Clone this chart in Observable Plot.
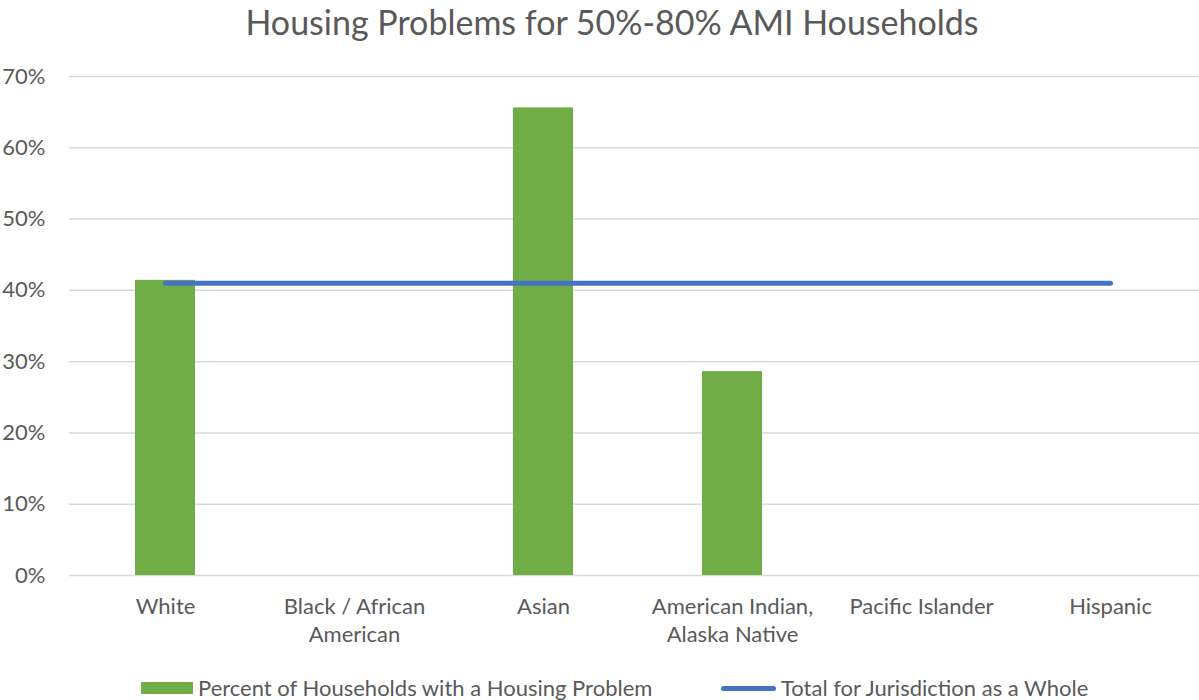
<!DOCTYPE html>
<html><head><meta charset="utf-8">
<script src="https://cdn.jsdelivr.net/npm/d3@7"></script>
<script src="https://cdn.jsdelivr.net/npm/@observablehq/plot@0.6"></script>
<style>
body{margin:0;background:#fff;font-family:Lato,sans-serif;color:#595959}
#wrap{width:1199px;height:700px;position:relative;overflow:hidden;background:#fff}
#title{position:absolute;left:0;top:3px;width:1224px;text-align:center;font-size:34px;line-height:37px;white-space:nowrap}
#chart{position:absolute;left:0;top:48px}
.leg{position:absolute;font-size:22px;line-height:24px;white-space:nowrap;top:676px}
.sw{position:absolute}
</style></head>
<body>
<div id="wrap">
  <div id="title">Housing Problems for 50%-80% AMI Households</div>
  <div id="chart"></div>
  <div class="sw" style="left:141px;top:682px;width:52px;height:12px;background:#70AD47"></div>
  <div class="leg" style="left:198px">Percent of Households with a Housing Problem</div>
  <div class="sw" style="left:721px;top:686px;width:55px;height:5px;border-radius:3px;background:#4472C4"></div>
  <div class="leg" style="left:781px">Total for Jurisdiction as a Whole</div>
</div>
<script>
const categories = ["White","Black / African American","Asian","American Indian, Alaska Native","Pacific Islander","Hispanic"];
const tickLabels = ["White","Black / African\nAmerican","Asian","American Indian,\nAlaska Native","Pacific Islander","Hispanic"];
const percentWithProblem = [41.4, 0, 65.6, 28.6, 0, 0];
const jurisdictionTotal = [41.0, 41.0, 41.0, 41.0, 41.0, 41.0];
const yTicks = [0,10,20,30,40,50,60,70];

const rows = categories.map((c,i)=>({cat:c, pct:percentWithProblem[i], total:jurisdictionTotal[i]}));
const labelOf = new Map(categories.map((c,i)=>[c, tickLabels[i]]));

const chart = Plot.plot({
  width: 1199,
  height: 612,
  marginLeft: 69,
  marginRight: 0,
  marginTop: 28,
  marginBottom: 85,
  style: {fontFamily: "Lato, sans-serif", color: "#595959", background: "transparent"},
  x: {domain: categories, range: [69, 1205], paddingInner: 0.683, paddingOuter: 0.3415},
  y: {domain: [0, 70]},
  marks: [
    Plot.gridY(yTicks, {stroke: "#d9d9d9", strokeOpacity: 1, strokeWidth: 1.5}),
    Plot.barY(rows, {x: "cat", y: "pct", fill: "#70AD47"}),
    Plot.lineY(rows, {x: "cat", y: "total", stroke: "#4472C4", strokeWidth: 5, strokeLinecap: "round"}),
    Plot.axisY(yTicks, {tickSize: 0, tickPadding: 24, fontSize: 22, tickFormat: d => d + "%", label: null}),
    Plot.axisX({tickSize: 0, tickPadding: 19, fontSize: 22, lineHeight: 1.27, tickFormat: d => labelOf.get(d), label: null})
  ]
});
document.getElementById("chart").appendChild(chart);
</script>
</body></html>
